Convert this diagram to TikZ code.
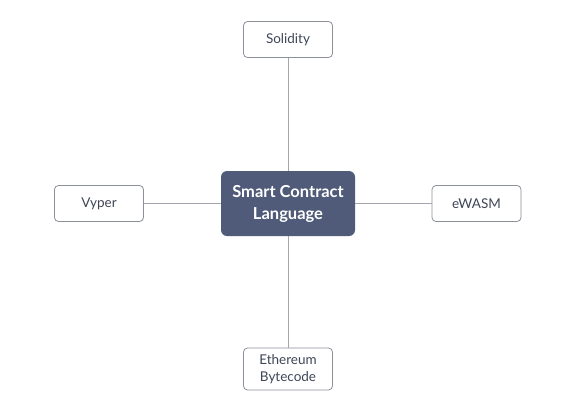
\documentclass[tikz,border=0pt]{standalone}
\usepackage{fontspec}
\setmainfont{Lato}
\usetikzlibrary{calc}
\definecolor{slate}{HTML}{4F5B78}
\definecolor{edgegray}{HTML}{8C9099}
\definecolor{inktext}{HTML}{3E4657}
\tikzset{
  hub/.style = {rectangle, rounded corners = 6pt, fill = slate, text = white, minimum width = 134pt, minimum height = 65pt, align = center, font = \fontsize{16.5}{22}\selectfont\bfseries},
  leaf/.style = {rectangle, rounded corners = 4pt, draw = edgegray, line width = 0.8pt, fill = white, text = inktext, minimum width = 89pt, minimum height = 36pt, align = center, font = \fontsize{13.5}{17}\selectfont},
  spoke/.style = {draw = edgegray!80, line width = 0.8pt}
}
\begin{document}
\begin{tikzpicture}[x = 1pt, y = -1pt]
\fill[white] (0,0) rectangle (576,407);
\useasboundingbox (0,0) rectangle (576,407);
\draw (288,203.5) node[hub, name = scl]{Smart Contract\\Language};
\draw (scl) + (0,-164) node[leaf, name = sol]{Solidity};
\draw (scl) + (-189,0) node[leaf, name = vyp]{Vyper};
\draw (scl) + (188.5,0) node[leaf, name = ewa]{eWASM};
\draw (scl) + (0,165.5) node[leaf, name = byt, minimum height = 42pt]{Ethereum\\Bytecode};
% spokes from the hub
\path[spoke] (sol) -- (scl);
\path[spoke] (scl) -- (byt);
\path[spoke] (vyp) -- (scl);
\path[spoke] (scl) -- (ewa);
\end{tikzpicture}
\end{document}
